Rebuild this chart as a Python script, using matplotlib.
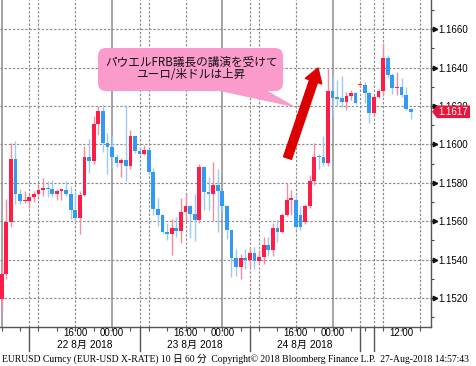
import matplotlib
matplotlib.use('Agg')
import matplotlib.pyplot as plt
import numpy as np
from matplotlib.patches import FancyBboxPatch, Polygon, FancyArrowPatch, ArrowStyle
from matplotlib.transforms import IdentityTransform, blended_transform_factory

W, H = 476, 366

# ---- data: hourly EUR/USD candles (index 0 = 22 Aug 00:00 JST) ----
opens = [1.15197, 1.15327, 1.15597, 1.15925, 1.15741, 1.15703, 1.15706, 1.15725, 1.15743, 1.15763,
         1.15772, 1.15767, 1.15744, 1.15758, 1.15763, 1.15743, 1.15656, 1.15619, 1.15736, 1.15932,
         1.15915, 1.16106, 1.16174, 1.16010, 1.15986, 1.15937, 1.15903, 1.15917, 1.15889, 1.16042,
         1.15967, 1.15950, 1.15972, 1.15859, 1.15663, 1.15633, 1.15546, 1.15532, 1.15563, 1.15551,
         1.15650, 1.15677, 1.15638, 1.15607, 1.15885, 1.15751, 1.15743, 1.15790, 1.15755, 1.15677,
         1.15555, 1.15407, 1.15363, 1.15407, 1.15398, 1.15437, 1.15395, 1.15416, 1.15477, 1.15450,
         1.15567, 1.15546, 1.15633, 1.15711, 1.15711, 1.15633, 1.15598, 1.15677, 1.15807, 1.15937,
         1.15932, 1.15901, 1.16278, 1.16243, 1.16243, 1.16223, 1.16254, 1.16270, 1.16308, 1.16310,
         1.16266, 1.16162, 1.16249, 1.16280, 1.16449, 1.16362, 1.16292, 1.16297, 1.16257, 1.16184]
highs = [1.15388, 1.15718, 1.16007, 1.16016, 1.15767, 1.15755, 1.15740, 1.15755, 1.15784, 1.15824,
         1.15812, 1.15816, 1.15770, 1.15770, 1.15807, 1.15784, 1.15755, 1.15755, 1.15990, 1.16028,
         1.16150, 1.16200, 1.16206, 1.16059, 1.16042, 1.15950, 1.15929, 1.16198, 1.16077, 1.16045,
         1.15980, 1.15998, 1.15976, 1.15877, 1.15720, 1.15638, 1.15590, 1.15610, 1.15620, 1.15720,
         1.15743, 1.15685, 1.15743, 1.15899, 1.15890, 1.15830, 1.15911, 1.15873, 1.15760, 1.15685,
         1.15555, 1.15454, 1.15430, 1.15454, 1.15468, 1.15468, 1.15450, 1.15520, 1.15520, 1.15590,
         1.15607, 1.15645, 1.15798, 1.15763, 1.15743, 1.15677, 1.15690, 1.15842, 1.16007, 1.15950,
         1.16043, 1.16400, 1.16361, 1.16335, 1.16357, 1.16275, 1.16283, 1.16275, 1.16318, 1.16327,
         1.16275, 1.16257, 1.16287, 1.16530, 1.16466, 1.16370, 1.16376, 1.16344, 1.16297, 1.16188]
lows = [1.15127, 1.15300, 1.15572, 1.15690, 1.15690, 1.15694, 1.15670, 1.15700, 1.15732, 1.15730,
        1.15725, 1.15725, 1.15711, 1.15710, 1.15729, 1.15612, 1.15598, 1.15534, 1.15730, 1.15850,
        1.15900, 1.16049, 1.15962, 1.15847, 1.15877, 1.15885, 1.15828, 1.15812, 1.15871, 1.15955,
        1.15946, 1.15946, 1.15847, 1.15633, 1.15577, 1.15541, 1.15503, 1.15424, 1.15520, 1.15489,
        1.15603, 1.15515, 1.15499, 1.15590, 1.15659, 1.15659, 1.15603, 1.15546, 1.15650, 1.15506,
        1.15311, 1.15315, 1.15300, 1.15350, 1.15363, 1.15350, 1.15380, 1.15380, 1.15420, 1.15420,
        1.15494, 1.15537, 1.15625, 1.15633, 1.15555, 1.15555, 1.15586, 1.15670, 1.15790, 1.15870,
        1.15890, 1.15890, 1.16144, 1.16200, 1.16193, 1.16179, 1.16230, 1.16210, 1.16300, 1.16217,
        1.16113, 1.16148, 1.16240, 1.16250, 1.16344, 1.16263, 1.16257, 1.16249, 1.16179, 1.16130]
closes = [1.15327, 1.15597, 1.15925, 1.15741, 1.15703, 1.15706, 1.15725, 1.15743, 1.15763, 1.15772,
          1.15767, 1.15744, 1.15758, 1.15763, 1.15743, 1.15656, 1.15619, 1.15736, 1.15932, 1.15915,
          1.16106, 1.16174, 1.16009, 1.15986, 1.15937, 1.15903, 1.15917, 1.15889, 1.16042, 1.15967,
          1.15950, 1.15972, 1.15859, 1.15663, 1.15633, 1.15546, 1.15532, 1.15563, 1.15551, 1.15650,
          1.15677, 1.15638, 1.15607, 1.15885, 1.15751, 1.15743, 1.15790, 1.15755, 1.15677, 1.15555,
          1.15407, 1.15363, 1.15407, 1.15398, 1.15437, 1.15395, 1.15416, 1.15477, 1.15450, 1.15567,
          1.15546, 1.15633, 1.15711, 1.15714, 1.15569, 1.15572, 1.15677, 1.15807, 1.15937, 1.15932,
          1.15901, 1.16278, 1.16243, 1.16238, 1.16223, 1.16254, 1.16266, 1.16217, 1.16312, 1.16266,
          1.16162, 1.16249, 1.16280, 1.16449, 1.16362, 1.16296, 1.16301, 1.16257, 1.16184, 1.16171]

y_major = [1.1520, 1.1540, 1.1560, 1.1580, 1.1600, 1.1620, 1.1640, 1.1660]
y_minor = [1.1510, 1.1530, 1.1550, 1.1570, 1.1590, 1.1610, 1.1630, 1.1650, 1.1670]
time_pos = [16, 24, 40, 48, 64, 72, 87]
time_labels = ['16:00', '00:00', '16:00', '00:00', '16:00', '00:00', '12:00']
date_pos = [18, 42, 66]
date_labels = ['22 8月 2018', '23 8月 2018', '24 8月 2018']
session_starts = [6, 30, 54, 78, 81]
dotted_x = [6, 8, 16, 30, 32, 40, 54, 56, 64, 78, 81, 83, 91]
solid_x = [0, 24, 48, 72]
minor_x = list(range(0, 77, 4)) + [79, 83, 87, 91]
last_price = 1.1617
note_lines = ['パウエルFRB議長の講演を受けて', 'ユーロ/米ドルは上昇']
footer = 'EURUSD Curncy (EUR-USD X-RATE) 10 日 60 分  Copyright© 2018 Bloomberg Finance L.P.  27-Aug-2018 14:57:43'

SANS = ['Liberation Sans', 'Noto Sans CJK JP']
UP, DOWN = '#ff1d48', '#3399f3'
UPW, DOWNW = '#f58ba0', '#9ccaf2'
GRID = '#8a8a8a'

fig = plt.figure(figsize=(W / 100, H / 100), dpi=100)
fig.patch.set_facecolor('white')
ax_bottom_px = 326.5
ax = fig.add_axes([0, (H - ax_bottom_px) / H, 431 / W, ax_bottom_px / H])
ax.set_xlim(-0.37, 93.41)
ax.set_ylim(1.15052, 1.16752)

# grid
for y in y_major:
    ax.axhline(y, color=GRID, lw=0.85, ls=(0, (2, 1.5)), zorder=1)
for x in dotted_x:
    ax.axvline(x, color=GRID, lw=0.85, ls=(0, (2, 1.5)), zorder=1)
for x in solid_x:
    ax.axvline(x, color='#8c8c8c', lw=1.1, zorder=1)

# candles
o = np.array(opens); h = np.array(highs); l = np.array(lows); c = np.array(closes)
idx = np.arange(len(o))
up = c >= o
ax.vlines(idx[up], l[up], h[up], color=UPW, lw=1.0, zorder=2)
ax.vlines(idx[~up], l[~up], h[~up], color=DOWNW, lw=1.0, zorder=2)
bottom = np.minimum(o, c)
height = np.maximum(np.abs(c - o), 0.00008)
ax.bar(idx[up], height[up], bottom=bottom[up], width=0.82, color=UP, zorder=3, linewidth=0)
ax.bar(idx[~up], height[~up], bottom=bottom[~up], width=0.82, color=DOWN, zorder=3, linewidth=0)

# spines
for s in ['left', 'top']:
    ax.spines[s].set_visible(False)
for s in ['right', 'bottom']:
    ax.spines[s].set_color('#555555')
    ax.spines[s].set_linewidth(1.0)

# y axis on right
ax.yaxis.tick_right()
ax.set_yticks(y_major)
ax.set_yticks(y_minor, minor=True)
ax.set_yticklabels(['%.4f' % v for v in y_major], fontsize=7, family=SANS)
ax.tick_params(axis='y', which='major', direction='out', length=3.2, width=0.9, pad=2.2, color='#222222')
ax.tick_params(axis='y', which='minor', direction='out', length=2.2, width=0.8, color='#444444')
btr = blended_transform_factory(ax.transAxes, ax.transData)
ax.plot([1 + 4.5 / 431] * len(y_major), y_major, ls='none', marker='>', ms=3.2, color='#111111',
        transform=btr, clip_on=False, zorder=5)

# x axis
ax.set_xticks(minor_x)
ax.set_xticklabels([])
ax.tick_params(axis='x', which='major', direction='out', length=3, width=0.8, color='#555555')
bxt = blended_transform_factory(ax.transData, ax.transAxes)
for x in session_starts:
    ax.plot([x, x], [0, -24.5 / ax_bottom_px], color='#555555', lw=1.0, transform=bxt, clip_on=False)
for x, t in zip(time_pos, time_labels):
    ax.text(x, -6.8 / ax_bottom_px, t, transform=bxt, ha='center', va='center', fontsize=7, family=SANS)
for x, t in zip(date_pos, date_labels):
    ax.text(x, -18.5 / ax_bottom_px, t, transform=bxt, ha='center', va='center', fontsize=7.3, family=SANS)

# footer
ft = fig.text(2 / W, 1 - 358.5 / H, footer, ha='left', va='center', fontsize=7,
              family=['Liberation Serif', 'Noto Sans CJK JP'])
fig.canvas.draw()
bb = ft.get_window_extent()
ft.set_fontsize(7 * 471 / bb.width)

ID = IdentityTransform()
def P(x, y):
    return (x, H - y)

# callout box
box = FancyBboxPatch(P(98, 91), 185, 43, boxstyle='round,pad=0,rounding_size=8',
                     transform=ID, facecolor='#fb9bcb', edgecolor='none', zorder=10)
fig.patches.append(box)
tail = Polygon([P(215, 90), P(266, 90), P(296.5, 107.5)], closed=True, transform=ID,
               facecolor='#fb9bcb', edgecolor='none', zorder=10)
fig.patches.append(tail)
fig.text(*P(191, 62), note_lines[0], transform=ID, ha='center', va='center', fontsize=8.4,
         family=['Noto Sans CJK JP'], color='#111111', zorder=11)
fig.text(*P(191, 74), note_lines[1], transform=ID, ha='center', va='center', fontsize=8.4,
         family=['Noto Sans CJK JP'], color='#111111', zorder=11)

# red arrow
arr = FancyArrowPatch(P(287.5, 158), P(318, 68), transform=ID,
                      arrowstyle=ArrowStyle.Simple(head_length=10, head_width=12.5, tail_width=6),
                      color='#dd0000', zorder=12, shrinkA=0, shrinkB=0)
fig.patches.append(arr)

# last price tag
yc = ax.transData.transform((0, last_price))[1]
tag = Polygon([(432, yc), (437, yc + 6.3), (470, yc + 6.3), (470, yc - 6.3), (437, yc - 6.3)],
              closed=True, transform=ID, facecolor='#e8163c', edgecolor='none', zorder=10)
fig.patches.append(tag)
fig.text(453, yc, '%.4f' % last_price, transform=ID, ha='center', va='center', fontsize=7,
         family=SANS, color='white', zorder=11)

fig.savefig('out.png', dpi=100)
